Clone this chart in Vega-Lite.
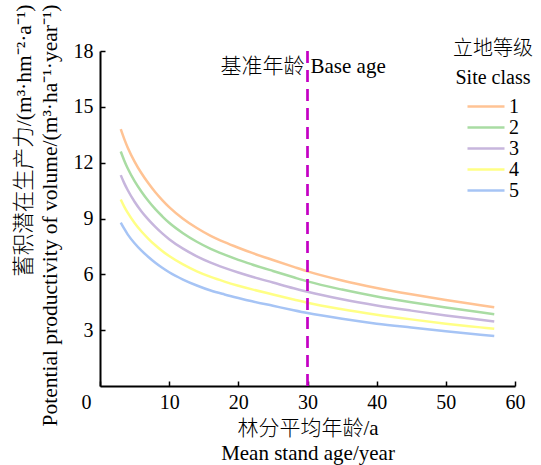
{
  "$schema": "https://vega.github.io/schema/vega-lite/v6.json",
  "width": 415,
  "height": 335,
  "autosize": "none",
  "padding": {"left": 100, "top": 51, "right": 26, "bottom": 79},
  "background": "white",
  "config": {
    "view": {"stroke": null},
    "font": "Liberation Serif, Noto Sans CJK SC",
    "axis": {
      "labelFont": "Liberation Serif",
      "labelFontSize": 20,
      "labelColor": "black",
      "labelFlush": false,
      "titleFont": "Liberation Serif, Noto Sans CJK SC",
      "titleFontSize": 20,
      "titleFontWeight": 300,
      "titleColor": "black",
      "domainColor": "black",
      "domainWidth": 2,
      "tickColor": "black",
      "tickWidth": 1.5,
      "tickSize": -5,
      "grid": false
    },
    "legend": {
      "labelFont": "Liberation Serif",
      "labelFontSize": 20,
      "labelColor": "black",
      "titleFont": "Liberation Serif, Noto Sans CJK SC",
      "titleFontSize": 20,
      "titleFontWeight": 300,
      "titleColor": "black"
    }
  },
  "datasets": {
    "curves": [
      {"age": 3, "cls": "1", "v": 13.8}, {"age": 3.5, "cls": "1", "v": 13.28}, {"age": 4, "cls": "1", "v": 12.82}, {"age": 5, "cls": "1", "v": 12.06}, {"age": 6, "cls": "1", "v": 11.43}, {"age": 7, "cls": "1", "v": 10.89}, {"age": 8, "cls": "1", "v": 10.41}, {"age": 9, "cls": "1", "v": 9.99}, {"age": 10, "cls": "1", "v": 9.61}, {"age": 12, "cls": "1", "v": 8.99}, {"age": 14, "cls": "1", "v": 8.49}, {"age": 16, "cls": "1", "v": 8.07}, {"age": 18, "cls": "1", "v": 7.73}, {"age": 20, "cls": "1", "v": 7.43}, {"age": 22, "cls": "1", "v": 7.15}, {"age": 25, "cls": "1", "v": 6.77}, {"age": 28, "cls": "1", "v": 6.4}, {"age": 30, "cls": "1", "v": 6.16}, {"age": 35, "cls": "1", "v": 5.67}, {"age": 40, "cls": "1", "v": 5.27}, {"age": 45, "cls": "1", "v": 4.93}, {"age": 50, "cls": "1", "v": 4.62}, {"age": 55, "cls": "1", "v": 4.34}, {"age": 57, "cls": "1", "v": 4.23},
      {"age": 3, "cls": "2", "v": 12.6}, {"age": 3.5, "cls": "2", "v": 12.12}, {"age": 4, "cls": "2", "v": 11.7}, {"age": 5, "cls": "2", "v": 11.01}, {"age": 6, "cls": "2", "v": 10.44}, {"age": 7, "cls": "2", "v": 9.94}, {"age": 8, "cls": "2", "v": 9.5}, {"age": 9, "cls": "2", "v": 9.12}, {"age": 10, "cls": "2", "v": 8.77}, {"age": 12, "cls": "2", "v": 8.21}, {"age": 14, "cls": "2", "v": 7.75}, {"age": 16, "cls": "2", "v": 7.37}, {"age": 18, "cls": "2", "v": 7.06}, {"age": 20, "cls": "2", "v": 6.78}, {"age": 22, "cls": "2", "v": 6.53}, {"age": 25, "cls": "2", "v": 6.18}, {"age": 28, "cls": "2", "v": 5.84}, {"age": 30, "cls": "2", "v": 5.62}, {"age": 35, "cls": "2", "v": 5.18}, {"age": 40, "cls": "2", "v": 4.81}, {"age": 45, "cls": "2", "v": 4.5}, {"age": 50, "cls": "2", "v": 4.22}, {"age": 55, "cls": "2", "v": 3.96}, {"age": 57, "cls": "2", "v": 3.86},
      {"age": 3, "cls": "3", "v": 11.33}, {"age": 3.5, "cls": "3", "v": 10.9}, {"age": 4, "cls": "3", "v": 10.53}, {"age": 5, "cls": "3", "v": 9.9}, {"age": 6, "cls": "3", "v": 9.38}, {"age": 7, "cls": "3", "v": 8.94}, {"age": 8, "cls": "3", "v": 8.55}, {"age": 9, "cls": "3", "v": 8.2}, {"age": 10, "cls": "3", "v": 7.89}, {"age": 12, "cls": "3", "v": 7.38}, {"age": 14, "cls": "3", "v": 6.97}, {"age": 16, "cls": "3", "v": 6.63}, {"age": 18, "cls": "3", "v": 6.35}, {"age": 20, "cls": "3", "v": 6.1}, {"age": 22, "cls": "3", "v": 5.87}, {"age": 25, "cls": "3", "v": 5.56}, {"age": 28, "cls": "3", "v": 5.25}, {"age": 30, "cls": "3", "v": 5.06}, {"age": 35, "cls": "3", "v": 4.66}, {"age": 40, "cls": "3", "v": 4.33}, {"age": 45, "cls": "3", "v": 4.05}, {"age": 50, "cls": "3", "v": 3.79}, {"age": 55, "cls": "3", "v": 3.56}, {"age": 57, "cls": "3", "v": 3.47},
      {"age": 3, "cls": "4", "v": 10.02}, {"age": 3.5, "cls": "4", "v": 9.64}, {"age": 4, "cls": "4", "v": 9.31}, {"age": 5, "cls": "4", "v": 8.76}, {"age": 6, "cls": "4", "v": 8.3}, {"age": 7, "cls": "4", "v": 7.91}, {"age": 8, "cls": "4", "v": 7.56}, {"age": 9, "cls": "4", "v": 7.25}, {"age": 10, "cls": "4", "v": 6.98}, {"age": 12, "cls": "4", "v": 6.53}, {"age": 14, "cls": "4", "v": 6.16}, {"age": 16, "cls": "4", "v": 5.86}, {"age": 18, "cls": "4", "v": 5.61}, {"age": 20, "cls": "4", "v": 5.39}, {"age": 22, "cls": "4", "v": 5.19}, {"age": 25, "cls": "4", "v": 4.92}, {"age": 28, "cls": "4", "v": 4.65}, {"age": 30, "cls": "4", "v": 4.47}, {"age": 35, "cls": "4", "v": 4.12}, {"age": 40, "cls": "4", "v": 3.83}, {"age": 45, "cls": "4", "v": 3.58}, {"age": 50, "cls": "4", "v": 3.35}, {"age": 55, "cls": "4", "v": 3.15}, {"age": 57, "cls": "4", "v": 3.07},
      {"age": 3, "cls": "5", "v": 8.78}, {"age": 3.5, "cls": "5", "v": 8.45}, {"age": 4, "cls": "5", "v": 8.15}, {"age": 5, "cls": "5", "v": 7.67}, {"age": 6, "cls": "5", "v": 7.27}, {"age": 7, "cls": "5", "v": 6.93}, {"age": 8, "cls": "5", "v": 6.62}, {"age": 9, "cls": "5", "v": 6.35}, {"age": 10, "cls": "5", "v": 6.11}, {"age": 12, "cls": "5", "v": 5.72}, {"age": 14, "cls": "5", "v": 5.4}, {"age": 16, "cls": "5", "v": 5.13}, {"age": 18, "cls": "5", "v": 4.92}, {"age": 20, "cls": "5", "v": 4.73}, {"age": 22, "cls": "5", "v": 4.55}, {"age": 25, "cls": "5", "v": 4.31}, {"age": 28, "cls": "5", "v": 4.07}, {"age": 30, "cls": "5", "v": 3.92}, {"age": 35, "cls": "5", "v": 3.61}, {"age": 40, "cls": "5", "v": 3.35}, {"age": 45, "cls": "5", "v": 3.14}, {"age": 50, "cls": "5", "v": 2.94}, {"age": 55, "cls": "5", "v": 2.76}, {"age": 57, "cls": "5", "v": 2.69}
    ],
    "baseage": [{"age": 30, "v": 17.13, "left": "基准年龄", "right": "Base age"}]
  },
  "layer": [
    {
      "data": {"name": "curves"},
      "mark": {"type": "line", "strokeWidth": 2.5, "interpolate": "monotone"},
      "encoding": {
        "x": {
          "field": "age", "type": "quantitative",
          "scale": {"domain": [0, 60], "nice": false},
          "axis": {
            "values": [0, 10, 20, 30, 40, 50, 60],
            "title": ["林分平均年龄/a", "Mean stand age/year"],
            "titleLineHeight": 25,
            "titleFontSize": 21,
            "labelPadding": 11,
            "labelOffset": {"condition": {"test": "datum.value === 0", "value": -14}, "value": 0},
            "titlePadding": 5
          }
        },
        "y": {
          "field": "v", "type": "quantitative",
          "scale": {"domain": [0, 18], "nice": false},
          "axis": {
            "values": [3, 6, 9, 12, 15, 18],
            "title": ["蓄积潜在生产力/(m³·hm⁻²·a⁻¹)", "Potential productivity of volume/(m³·ha⁻¹·year⁻¹)"],
            "titleFontSize": 21.5,
            "titleLineHeight": 26,
            "titleAnchor": "end",
            "titleAlign": "right",
            "titleY": -47,
            "labelPadding": 12,
            "titlePadding": 12
          }
        },
        "color": {
          "field": "cls", "type": "nominal",
          "scale": {"domain": ["1", "2", "3", "4", "5"], "range": ["#FFC394", "#A9DCA3", "#C7B6DD", "#FFFF85", "#A6C4F5"]},
          "legend": {
            "title": ["立地等级", "Site class"],
            "titleLineHeight": 29,
            "titleAlign": "center",
            "titleAnchor": "middle",
            "titlePadding": 8,
            "orient": "none",
            "legendX": 353,
            "legendY": -12,
            "symbolType": "stroke",
            "symbolSize": 1369,
            "symbolStrokeWidth": 2.5,
            "clipHeight": 21,
            "rowPadding": 0,
            "labelOffset": 3
          }
        }
      }
    },
    {
      "data": {"name": "baseage"},
      "mark": {"type": "rule", "color": "#C400C4", "strokeWidth": 2.7, "strokeDash": [12, 7]},
      "encoding": {"x": {"field": "age", "type": "quantitative"}}
    },
    {
      "data": {"name": "baseage"},
      "mark": {"type": "text", "align": "right", "baseline": "middle", "dx": -3, "fontSize": 21, "fontWeight": 300, "font": "Liberation Serif, Noto Sans CJK SC", "color": "black"},
      "encoding": {"x": {"field": "age", "type": "quantitative"}, "y": {"field": "v", "type": "quantitative"}, "text": {"field": "left"}}
    },
    {
      "data": {"name": "baseage"},
      "mark": {"type": "text", "align": "left", "baseline": "middle", "dx": 3, "fontSize": 21, "font": "Liberation Serif", "color": "black"},
      "encoding": {"x": {"field": "age", "type": "quantitative"}, "y": {"field": "v", "type": "quantitative"}, "text": {"field": "right"}}
    }
  ]
}
